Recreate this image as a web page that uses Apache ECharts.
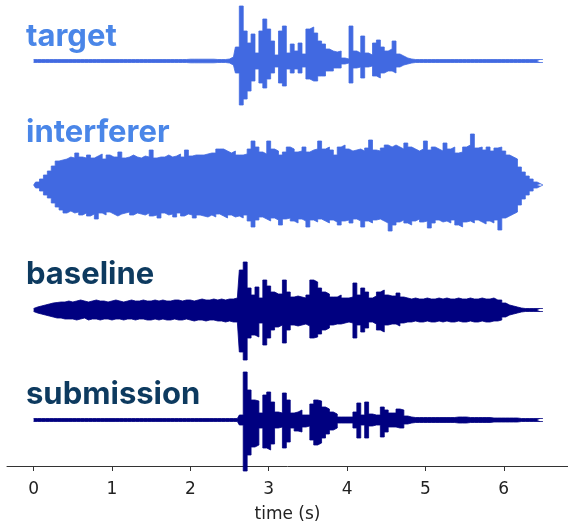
<!DOCTYPE html>
<html>
<head>
<meta charset="utf-8">
<script src="https://cdn.jsdelivr.net/npm/echarts@6/dist/echarts.min.js"></script>
<style>html,body{margin:0;padding:0;background:#fff}#c{width:568px;height:528px}</style>
</head>
<body>
<div id="c"></div>
<script>
// sample times (s), step 0.05 s from 0 to 6.5
const TIME = Array.from({length: 131}, (_, i) => +(i * 0.05).toFixed(2));
const TICKS = [0, 1, 2, 3, 4, 5, 6];
const LABELS = ['target', 'interferer', 'baseline', 'submission'];

// envelope amplitudes (upper / lower)
const TARGET_UP = [
1.5,1.5,1.5,1.5,1.5,1.5,1.5,1.5,1.5,1.5, 1.5,1.5,1.5,1.5,1.5,1.5,1.5,1.5,1.5,1.5,
1.5,1.5,1.5,1.5,1.5,1.5,1.5,1.5,1.5,1.5, 1.5,1.5,1.5,1.5,1.5,1.5,1.5,1.5,1.5,1.5,
1.8,1.8,1.8,1.8,1.8,1.8,1.8,1.5,1.5,1.5,
2,4,14,55,30,18,27,8,30,42,
32,20,6,30,35,8,17,10,18,7,
32,34,28,20,17,12,10,9,10,3,
2,35,10,8,25,8,6,18,21,14,
10,12,20,7,5,3,2,1.5,1.5,1.5,
1.5,1.5,1.5,1.5,1.5,1.5,1.5,1.5,1.5,1.5, 1.5,1.5,1.5,1.5,1.5,1.5,1.5,1.5,1.5,1.5,
1.5,1.5,1.5,1.5,1.5,1.5,1.5,1.5,1.5,1.5, 1.5];
const TARGET_LO = [
1.5,1.5,1.5,1.5,1.5,1.5,1.5,1.5,1.5,1.5, 1.5,1.5,1.5,1.5,1.5,1.5,1.5,1.5,1.5,1.5,
1.5,1.5,1.5,1.5,1.5,1.5,1.5,1.5,1.5,1.5, 1.5,1.5,1.5,1.5,1.5,1.5,1.5,1.5,1.5,1.5,
1.8,1.8,1.8,1.8,1.8,1.8,1.8,1.5,1.5,1.5,
2,4,12,44,38,30,20,8,22,27,
18,12,6,22,25,8,12,8,12,6,
18,20,20,15,15,10,10,7,7,3,
2,22,7,6,17,6,5,15,17,12,
10,10,12,6,4,3,2,1.5,1.5,1.5,
1.5,1.5,1.5,1.5,1.5,1.5,1.5,1.5,1.5,1.5, 1.5,1.5,1.5,1.5,1.5,1.5,1.5,1.5,1.5,1.5,
1.5,1.5,1.5,1.5,1.5,1.5,1.5,1.5,1.5,1.5, 1.5];

const INTERF_UP = [
0,3,6,10,14,19,24,25,26,28,
27,32,28,27,30,27,29,31,26,30,
28,28,33,27,28,30,28,27,29,28,
35,27,28,28,30,28,29,31,28,35,
29,30,30,30,31,32,32,36,36,34,
32,34,30,30,31,36,44,38,33,31,
44,36,34,30,33,38,36,33,34,38,
33,35,36,44,36,38,35,30,38,40,
36,34,35,36,34,37,45,35,34,37,
40,38,40,38,36,42,38,36,34,36,
44,35,38,36,34,42,36,38,32,33,
38,40,51,37,38,35,38,34,37,38,
34,30,28,26,18,13,9,6,3,1,
0];
const INTERF_LO = [
0,3,6,10,13,18,22,25,28,26,
28,27,30,28,31,29,34,28,30,27,
29,31,29,28,27,30,28,29,30,28,
31,30,33,28,30,29,32,28,31,29,
30,33,30,31,32,30,32,29,31,33,
30,32,31,33,30,36,42,35,32,34,
36,33,35,40,34,33,36,38,34,36,
42,35,37,34,36,38,35,37,40,36,
35,38,34,36,42,36,38,35,34,36,
38,46,40,37,35,38,40,36,34,37,
36,43,38,35,37,36,38,35,40,42,
37,36,38,35,37,39,36,38,35,45,
33,31,29,27,20,14,10,6,3,1,
0];

const BASE_UP = [
1.5,3,4,5,6,7,7.5,8,8,9,
8,9,10,9,8,9,10,9,9,8,
9,10,9,8,9,10,9,9,10,9,
9,10,9,10,9,9,10,10,9,10,
10,9,10,11,10,10,11,10,11,10,
11,11,12,40,48,22,15,23,12,30,
24,18,16,16,30,18,13,14,13,12,
15,30,28,22,18,16,13,13,15,12,
12,13,27,15,22,18,12,14,18,20,
15,14,14,17,13,12,11,12,11,11,
12,11,11,12,11,12,11,11,12,11,
11,12,11,11,12,11,11,12,10,10,
7,5,4,3,2,1.5,1.5,1.5,1.5,1.5,
1.5];
const BASE_LO = [
1.5,3,4,5,6,7,8,8,9,9,
9,10,9,8,10,9,9,10,9,9,
10,9,9,10,9,9,10,9,9,10,
10,9,10,9,10,10,9,10,10,9,
10,11,10,10,11,10,10,11,11,12,
11,12,12,42,50,28,25,27,13,35,
28,20,17,15,33,20,15,16,15,14,
16,28,27,24,20,18,15,14,14,13,
12,13,28,15,22,18,12,14,20,22,
15,14,14,16,13,12,12,11,12,12,
11,12,12,11,12,11,12,12,11,12,
12,11,12,12,11,12,12,11,11,10,
7,5,4,3,2,1.5,1.5,1.5,1.5,1.5,
1.5];

const SUB_UP = [
1.5,1.5,1.5,1.5,1.5,1.5,1.5,1.5,1.5,1.5, 1.5,1.5,1.5,1.5,1.5,1.5,1.5,1.5,1.5,1.5,
1.5,1.5,1.5,1.5,1.5,1.5,1.5,1.5,1.5,1.5, 1.5,1.5,1.5,1.5,1.5,1.5,1.5,1.5,1.5,1.5,
1.5,1.5,1.5,1.5,1.5,1.5,1.5,1.5,1.5,1.5,
1.5,1.5,1.5,5,48,30,20,19,7,25,
28,18,8,7,27,20,7,8,10,5,
5,16,20,19,13,11,8,6,3,3,
3,3,8,17,5,18,6,5,5,13,
10,7,7,11,10,4,3,2.5,2.5,2.5,
2.5,2.5,2.5,2.5,2.5,2.5,2.5,2.5,3,3,
3,2.5,2.5,2.5,2.5,2.5,2.5,2,2,2,
2,2,2,2,1.5,1.5,1.5,1.5,1.5,1.5,
1.5];
const SUB_LO = [
1.5,1.5,1.5,1.5,1.5,1.5,1.5,1.5,1.5,1.5, 1.5,1.5,1.5,1.5,1.5,1.5,1.5,1.5,1.5,1.5,
1.5,1.5,1.5,1.5,1.5,1.5,1.5,1.5,1.5,1.5, 1.5,1.5,1.5,1.5,1.5,1.5,1.5,1.5,1.5,1.5,
1.5,1.5,1.5,1.5,1.5,1.5,1.5,1.5,1.5,1.5,
1.5,1.5,1.5,5,51,35,27,25,8,28,
30,24,8,7,28,22,8,11,12,7,
6,20,25,23,18,14,10,8,3,3,
3,3,8,18,5,18,6,5,5,17,
12,7,7,8,8,4,3,2.5,2.5,2.5,
2.5,2.5,2.5,2.5,2.5,2.5,2.5,2.5,3,3,
3,2.5,2.5,2.5,2.5,2.5,2.5,2,2,2,
2,2,2,2,1.5,1.5,1.5,1.5,1.5,1.5,
1.5];

const WAVES = [
  {up: TARGET_UP, lo: TARGET_LO, color: '#4169E1', label: '#4A86E8'},
  {up: INTERF_UP, lo: INTERF_LO, color: '#4169E1', label: '#4A86E8'},
  {up: BASE_UP, lo: BASE_LO, color: '#000080', label: '#0D3A5F'},
  {up: SUB_UP, lo: SUB_LO, color: '#000080', label: '#0D3A5F'}
];
const CENTERS = [61, 185, 310, 420];
const LABEL_Y = [41, 137, 279, 399];

const chart = echarts.init(document.getElementById('c'), null, {renderer: 'canvas'});
const XMIN = -0.34, XMAX = 6.82;
const grids = [], xAxes = [], yAxes = [], series = [];
WAVES.forEach((w, k) => {
  grids.push({left: 7, width: 561, top: CENTERS[k] - 60, height: 120});
  xAxes.push({type: 'value', gridIndex: k, min: XMIN, max: XMAX, show: false});
  yAxes.push({type: 'value', gridIndex: k, min: -60, max: 60, show: false});
  const mk = (arr, sign) => ({
    type: 'line', xAxisIndex: k, yAxisIndex: k, symbol: 'none', silent: true,
    step: 'middle',
    data: TIME.map((t, i) => [t, sign * arr[i]]),
    lineStyle: {color: w.color, width: 0.8},
    areaStyle: {color: w.color, opacity: 1},
    animation: false
  });
  series.push(mk(w.up, 1), mk(w.lo, -1));
});
// axis grid
grids.push({left: 7, width: 561, top: 0, height: 474});
xAxes.push({
  type: 'value', gridIndex: 4, min: XMIN, max: XMAX,
  name: 'time (s)', nameLocation: 'middle', nameGap: 40,
  nameTextStyle: {fontFamily: 'DejaVu Sans', fontSize: 17, color: '#222'},
  axisLine: {show: true, lineStyle: {color: '#333', width: 1}},
  axisTick: {show: true, customValues: TICKS, length: 5, lineStyle: {color: '#333', width: 1}},
  axisLabel: {customValues: TICKS, fontFamily: 'DejaVu Sans', fontSize: 17, color: '#222', margin: 15,
    formatter: v => String(v)},
  splitLine: {show: false}
});
yAxes.push({type: 'value', gridIndex: 4, show: false});

chart.setOption({
  backgroundColor: '#fff',
  animation: false,
  grid: grids, xAxis: xAxes, yAxis: yAxes, series: series,
  graphic: LABELS.map((s, k) => ({
    type: 'text', left: 26, top: LABEL_Y[k] - 20,
    style: {text: s, font: '700 31px Inter', fill: WAVES[k].label}
  }))
});
</script>
</body>
</html>
